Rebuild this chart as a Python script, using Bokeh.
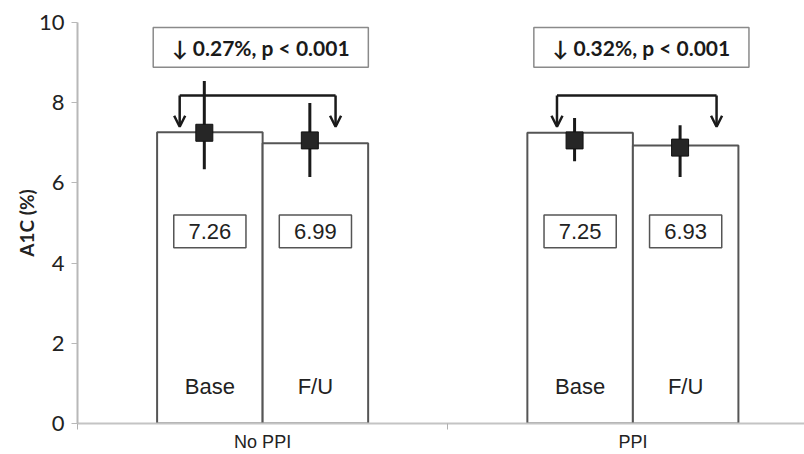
from bokeh.plotting import figure
from bokeh.models import Range1d, FixedTicker, Arrow, OpenHead
from bokeh.core.properties import value
from bokeh.embed import file_html
from bokeh.resources import INLINE

# ---- data ----
groups = ["No PPI", "PPI"]
phases = ["Base", "F/U"]
bar_means = [7.26, 6.99, 7.25, 6.93]        # bar heights / boxed values
marker_means = [7.25, 7.06, 7.06, 6.88]     # square markers
err_hi = [8.54, 7.99, 7.62, 7.44]
err_lo = [6.34, 6.15, 6.54, 6.15]
changes = ["\u2193 0.27%, p < 0.001", "\u2193 0.32%, p < 0.001"]
y_ticks = [0, 2, 4, 6, 8, 10]

# ---- style constants ----
BAR_W = 0.285
BRACKET_DX = [(-0.224, 0.197), (-0.205, 0.226)]
BRACKET_Y = 8.18
ARROW_TIP_Y = 7.40
ANN_Y, ANN_H, ANN_W = 9.38, 0.995, 0.581
ANN_DX = [-0.005, 0.023]
VAL_Y, VAL_H, VAL_W = 4.79, 0.82, 0.195
LAB_Y = 0.92
MARK_DX = -0.015

group_x = [i + 0.5 for i in range(len(groups))]
bar_x, bar_labels = [], []
for gx in group_x:
    for j, ph in enumerate(phases):
        bar_x.append(gx + (j - 0.5) * BAR_W)
        bar_labels.append(ph)

p = figure(width=804, height=454,
           x_range=Range1d(0, 1.9635), y_range=Range1d(0, 10),
           output_backend="svg", toolbar_location=None,
           min_border_left=77, min_border_right=0,
           min_border_top=22, min_border_bottom=30)
p.outline_line_color = None
p.background_fill_color = "white"
p.border_fill_color = "white"

# grid: only top line at 10
p.xgrid.visible = False
p.ygrid.ticker = FixedTicker(ticks=[10])
p.ygrid.grid_line_color = "#8c8c8c"
p.ygrid.grid_line_width = 2

# y axis
p.yaxis.ticker = FixedTicker(ticks=y_ticks)
p.yaxis.axis_line_color = "#b8b8b8"
p.yaxis.axis_line_width = 2
p.yaxis.major_tick_line_color = "#b8b8b8"
p.yaxis.major_tick_line_width = 1
p.yaxis.major_tick_out = 6
p.yaxis.major_tick_in = 0
p.yaxis.minor_tick_line_color = None
p.yaxis.major_label_text_font = "Lato"
p.yaxis.major_label_text_font_size = "22px"
p.yaxis.major_label_text_color = "#222222"
p.yaxis.major_label_standoff = 7
p.yaxis.axis_label = "A1C (%)"
p.yaxis.axis_label_text_font = "Lato"
p.yaxis.axis_label_text_font_style = "bold"
p.yaxis.axis_label_text_font_size = "19px"
p.yaxis.axis_label_text_color = "#222222"
p.yaxis.axis_label_standoff = -2

# x axis
p.xaxis.ticker = FixedTicker(ticks=group_x, minor_ticks=[0, 1, 2])
p.xaxis.major_label_overrides = {gx: g for gx, g in zip(group_x, groups)}
p.xaxis.axis_line_color = "#c4c4c4"
p.xaxis.axis_line_width = 2
p.xaxis.major_tick_line_color = None
p.xaxis.major_tick_out = 0
p.xaxis.major_tick_in = 0
p.xaxis.minor_tick_line_color = "#b0b0b0"
p.xaxis.minor_tick_out = 6
p.xaxis.minor_tick_in = 0
p.xaxis.major_label_text_font = "Liberation Sans"
p.xaxis.major_label_text_font_size = "18px"
p.xaxis.major_label_text_color = "#222222"
p.xaxis.major_label_standoff = 2

# bars
p.vbar(x=bar_x, width=BAR_W, top=bar_means, bottom=0,
       fill_color="white", line_color="#555555", line_width=2)

# value boxes and labels
p.rect(x=bar_x, y=[VAL_Y] * len(bar_x), width=VAL_W, height=VAL_H,
       fill_color="white", line_color="#555555", line_width=1.5)
p.text(x=bar_x, y=[VAL_Y] * len(bar_x), text=[f"{v:.2f}" for v in bar_means],
       text_align="center", text_baseline="middle",
       text_font=value("Liberation Sans"), text_font_size="22px", text_color="#222222")
p.text(x=bar_x, y=[LAB_Y] * len(bar_x), text=bar_labels,
       text_align="center", text_baseline="middle",
       text_font=value("Liberation Sans"), text_font_size="22px", text_color="#222222")

# brackets with arrows
for gi, gx in enumerate(group_x):
    xl = gx + BRACKET_DX[gi][0]
    xr = gx + BRACKET_DX[gi][1]
    p.line(x=[xl, xr], y=[BRACKET_Y, BRACKET_Y], line_color="#1a1a1a", line_width=2.5)
    for xx in (xl, xr):
        p.add_layout(Arrow(end=OpenHead(size=11, line_width=2.5, line_color="#1a1a1a"),
                           x_start=xx, y_start=BRACKET_Y, x_end=xx, y_end=ARROW_TIP_Y,
                           line_color="#1a1a1a", line_width=2.5))

# change annotation boxes
ann_x = [gx + dx for gx, dx in zip(group_x, ANN_DX)]
p.rect(x=ann_x, y=[ANN_Y] * len(ann_x), width=ANN_W, height=ANN_H,
       fill_color="white", line_color="#8a8a8a", line_width=1.5)
p.text(x=ann_x, y=[ANN_Y] * len(ann_x), text=changes,
       text_align="center", text_baseline="middle",
       text_font=value("Lato"), text_font_style="bold", text_font_size="21px",
       text_color="#1a1a1a")

# error bars and markers
mx = [x + MARK_DX for x in bar_x]
p.segment(x0=mx, y0=err_lo, x1=mx, y1=err_hi, line_color="#1a1a1a", line_width=3)
p.scatter(x=mx, y=marker_means, marker="square", size=17,
          fill_color="#262626", line_color="#111111", line_width=1)

open("out.html", "w").write(file_html(p, INLINE))
